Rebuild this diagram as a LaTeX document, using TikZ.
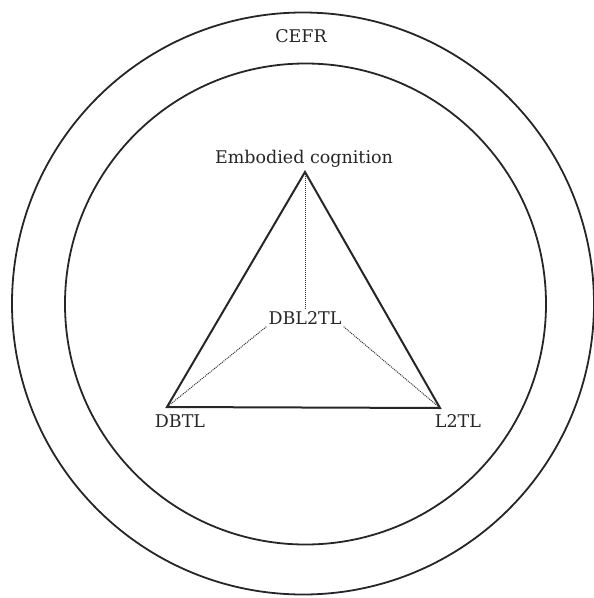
\documentclass[tikz,border=0pt]{standalone}
\usepackage{fontspec}
\setmainfont{DejaVu Serif}
\begin{document}
\begin{tikzpicture}[x=1pt,y=-1pt,
  ring/.style={line width=1.8pt, color=black!85},
  edge/.style={line width=2pt, color=black!85},
  dotline/.style={densely dotted, line width=1pt, color=black!80},
  lbl/.style={font=\fontsize{17.5}{20}\selectfont, text=black!85, inner sep=1pt}]
\useasboundingbox (0,0) rectangle (594,598);
\draw[ring] (303,303.5) circle (291);
\draw[ring] (305.5,304) circle (240.5);
\coordinate (top) at (305,172);
\coordinate (bl) at (167,407);
\coordinate (br) at (440,408);
\draw[edge, line join=miter] (top) -- (br) -- (bl) -- cycle;
\node[lbl] (cefr) at (301,36) {CEFR};
\node[lbl] (emb) at (304,159) {Embodied cognition};
\node[lbl] (dbtl) at (180,421) {DBTL};
\node[lbl] (l2tl) at (458,421) {L2TL};
\node[lbl, inner sep=2pt] (mid) at (305,318) {DBL2TL};
\draw[dotline] (mid.north) -- (top);
\draw[dotline] (mid.south west) -- (bl);
\draw[dotline] (mid.south east) -- (br);
\end{tikzpicture}
\end{document}
